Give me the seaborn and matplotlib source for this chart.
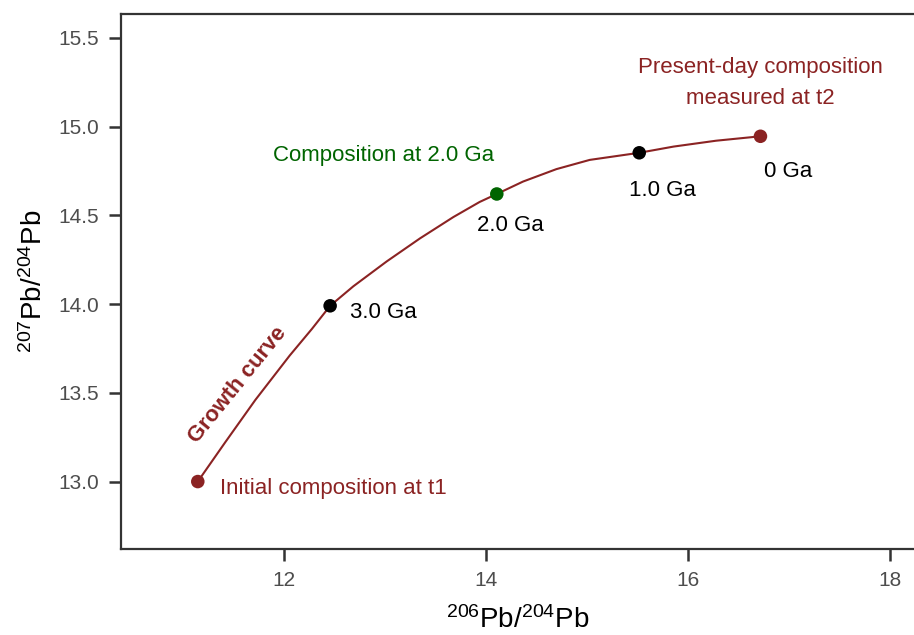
import numpy as np
import pandas as pd
import matplotlib
matplotlib.use("Agg")
import matplotlib.pyplot as plt
import seaborn as sns

# growth curve (206Pb/204Pb, 207Pb/204Pb)
curve_x = [11.15, 11.42, 11.72, 12.06, 12.28, 12.46, 12.69, 13.02, 13.35, 13.68,
           13.94, 14.11, 14.37, 14.70, 15.03, 15.52, 15.86, 16.28, 16.72]
curve_y = [13.00, 13.22, 13.46, 13.71, 13.86, 13.99, 14.10, 14.24, 14.37, 14.49,
           14.575, 14.62, 14.69, 14.76, 14.812, 14.852, 14.887, 14.92, 14.945]

# marked points along the curve
point_x = [11.15, 12.46, 14.11, 15.52, 16.72]
point_y = [13.00, 13.99, 14.62, 14.852, 14.945]
point_kind = ["end", "age", "highlight", "age", "end"]
age_labels = ["3.0 Ga", "2.0 Ga", "1.0 Ga", "0 Ga"]

x_ticks = [12, 14, 16, 18]
y_ticks = [13.0, 13.5, 14.0, 14.5, 15.0, 15.5]

red = "#8B2323"
green = "#006400"
palette = {"end": red, "age": "black", "highlight": green}

sns.set_style("white")
plt.rcParams["font.family"] = ["Liberation Sans", "DejaVu Sans"]
plt.rcParams["mathtext.fontset"] = "custom"
plt.rcParams["mathtext.rm"] = "Liberation Sans"
plt.rcParams["mathtext.it"] = "Liberation Sans:italic"

fig = plt.figure(figsize=(9.14, 6.35), dpi=100)
ax = fig.add_axes([0.1324, 0.1354, 0.8676, 0.8426])

curve = pd.DataFrame({"x": curve_x, "y": curve_y})
sns.lineplot(data=curve, x="x", y="y", sort=False, color=red, linewidth=1.5, ax=ax)

pts = pd.DataFrame({"x": point_x, "y": point_y, "kind": point_kind})
sns.scatterplot(data=pts, x="x", y="y", hue="kind", palette=palette, s=95,
                edgecolor="none", legend=False, ax=ax, zorder=5)

# age labels next to the points
fs = 16
age_off = [(0.20, -0.04), (-0.20, -0.18), (-0.10, -0.21), (0.04, -0.20)]
for lab, px, py, (dx, dy) in zip(age_labels, point_x[1:], point_y[1:], age_off):
    ax.text(px + dx, py + dy, lab, fontsize=fs, color="black", ha="left", va="center")

ax.text(point_x[0] + 0.22, point_y[0] - 0.04, "Initial composition at t1",
        fontsize=fs, color=red, ha="left", va="center")
ax.text(point_x[-1], 15.245, "Present-day composition\nmeasured at t2",
        fontsize=fs, color=red, ha="center", va="center", multialignment="center",
        linespacing=1.6)
ax.text(12.99, 14.838, "Composition at 2.0 Ga", fontsize=fs, color=green,
        ha="center", va="center")
ax.text(11.55, 13.545, "Growth curve", fontsize=16, color=red, fontweight="bold",
        rotation=51, ha="center", va="center", rotation_mode="anchor")

ax.set_xlim(10.39, 18.24)
ax.set_ylim(12.62, 15.634)
ax.set_xticks(x_ticks)
ax.set_yticks(y_ticks)
ax.set_yticklabels([f"{v:.1f}" for v in y_ticks])

ax.set_xlabel(r"$^{206}$Pb/$^{204}$Pb", fontsize=20, color="black", labelpad=12)
ax.set_ylabel(r"$^{207}$Pb/$^{204}$Pb", fontsize=20, color="black", labelpad=8)

for side in ["left", "top", "bottom"]:
    ax.spines[side].set_color("#333333")
    ax.spines[side].set_linewidth(1.6)
ax.spines["right"].set_visible(False)

ax.tick_params(axis="both", which="major", direction="out", length=8.5, width=1.8,
               color="#333333", labelcolor="#4D4D4D", labelsize=15, pad=7,
               left=True, bottom=True)

fig.savefig("out.png", dpi=100)
